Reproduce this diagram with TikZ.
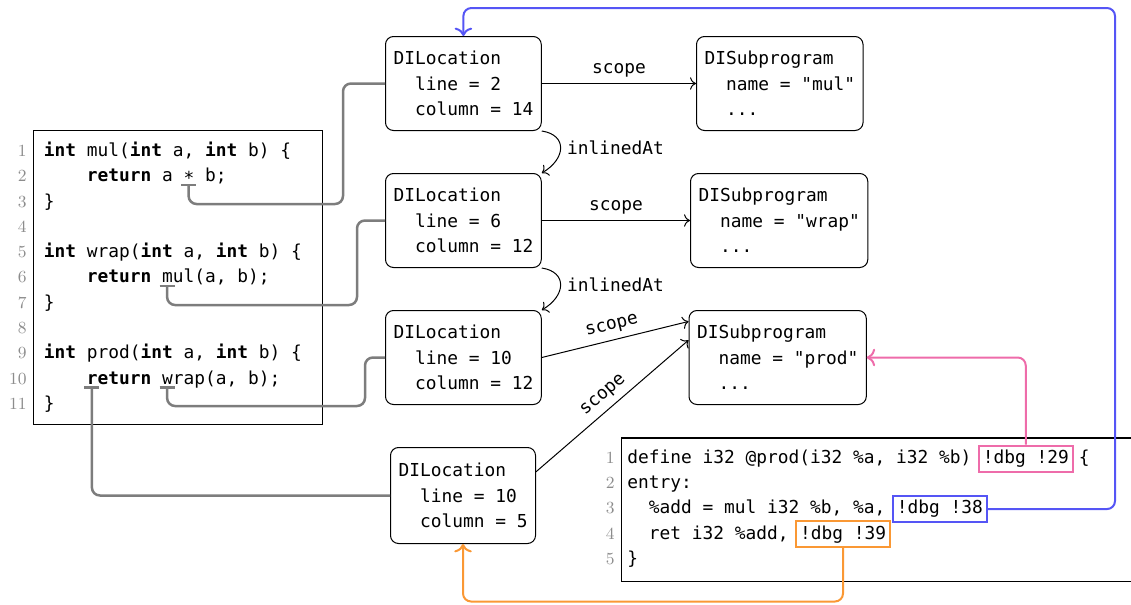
\documentclass[tikz,border=0pt]{standalone}
\usepackage{fontspec}
\newfontfamily\mono{DejaVu Sans Mono}
\usetikzlibrary{arrows.meta}
\definecolor{dbgpink}{RGB}{238,108,170}
\definecolor{dbgblue}{RGB}{85,85,245}
\definecolor{dbgorange}{RGB}{250,152,52}
\definecolor{linkgray}{RGB}{125,125,125}
\newcommand\kw[1]{\textbf{#1}}
\newcommand\mulop{\raisebox{-1.5pt}{*}}
\begin{document}
\begin{tikzpicture}[x=0.5pt,y=-0.5pt,
  every node/.style={font=\mono\fontsize{8.93}{12.75}\selectfont},
  mdbox/.style={draw, rounded corners=4pt, align=left, inner xsep=4pt, inner ysep=0pt,
    minimum height=47pt, anchor=north west, line width=0.5pt},
  codeline/.style={anchor=base west, inner sep=0pt},
  lineno/.style={anchor=base east, inner sep=0pt, font=\fontsize{8.5}{10}\selectfont, text=black!45},
  codeframe/.style={draw, line width=0.6pt, anchor=north west, inner sep=0pt},
  dbgbox/.style={draw=#1, line width=1pt, anchor=base west, inner sep=2.1pt},
  ref/.style={draw=linkgray, line width=1.25pt, rounded corners=4pt},
  tick/.style={draw=linkgray, line width=1.25pt},
  edge/.style={draw, line width=0.5pt, -{To[scale=1.1]}},
  dbglink/.style={draw=#1, line width=1pt, rounded corners=4pt, -{To[scale=1.1]}},
  lbl/.style={inner sep=3pt},
]
\useasboundingbox (0,0) rectangle (1131,605);
\clip (0,0) rectangle (1131,605);

% metadata nodes
\node[mdbox] (loc1) at (385,36) {DILocation\\~~line = 2\\~~column = 14};
\node[mdbox] (loc2) at (385,173) {DILocation\\~~line = 6\\~~column = 12};
\node[mdbox] (loc3) at (385,310) {DILocation\\~~line = 10\\~~column = 12};
\node[mdbox, minimum height=48pt] (loc4) at (390,447) {DILocation\\~~line = 10\\~~column = 5};
\node[mdbox] (sub1) at (696,36) {DISubprogram\\~~name = "mul"\\~~...};
\node[mdbox] (sub2) at (690,173) {DISubprogram\\~~name = "wrap"\\~~...};
\node[mdbox] (sub3) at (688.5,310) {DISubprogram\\~~name = "prod"\\~~...};

% C source listing
\node[codeframe, minimum width=144.5pt, minimum height=147pt] (src) at (33,130) {};
\foreach \i in {1,...,11}
  \node[lineno] (sn\i) at (27,{156.4+(\i-1)*25.3}) {\i};
\node[codeline] (s1)  at (43.5,156.4) {\kw{int} mul(\kw{int} a, \kw{int} b) \{};
\node[codeline] (s2)  at (43.5,181.7) {~~~~\kw{return} a \mulop{} b;};
\node[codeline] (s3)  at (43.5,207.0) {\}};
\node[codeline] (s5)  at (43.5,257.6) {\kw{int} wrap(\kw{int} a, \kw{int} b) \{};
\node[codeline] (s6)  at (43.5,282.9) {~~~~\kw{return} mul(a, b);};
\node[codeline] (s7)  at (43.5,308.2) {\}};
\node[codeline] (s9)  at (43.5,358.8) {\kw{int} prod(\kw{int} a, \kw{int} b) \{};
\node[codeline] (s10) at (43.5,384.1) {~~~~\kw{return} wrap(a, b);};
\node[codeline] (s11) at (43.5,409.4) {\}};

% LLVM IR listing
\node[codeframe, minimum width=300pt, minimum height=71.7pt] (ir) at (621,437.3) {};
\foreach \i in {1,...,5}
  \node[lineno] (in\i) at (615,{463.5+(\i-1)*25.2}) {\i};
\node[codeline] (r1) at (627,463.5) {define i32 @prod(i32 \%a, i32 \%b)};
\node[dbgbox=dbgpink] (d29) at (977.55,463.5) {!dbg !29};
\node[codeline] (r1b) at (1078.5,463.5) {\{};
\node[codeline] (r2) at (627,488.7) {entry:};
\node[codeline] (r3) at (627,513.9) {~~\%add = mul i32 \%b, \%a,};
\node[dbgbox=dbgblue] (d38) at (891.55,513.9) {!dbg !38};
\node[codeline] (r4) at (627,539.1) {~~ret i32 \%add,};
\node[dbgbox=dbgorange] (d39) at (794.8,539.1) {!dbg !39};
\node[codeline] (r5) at (627,564.3) {\}};

% source positions referenced by the locations
\coordinate (u1) at (188.6,185);
\coordinate (u2) at (167.1,286.2);
\coordinate (u3) at (167.1,387.4);
\coordinate (u4) at (91.9,387.4);
\coordinate (k1) at (343,204);
\coordinate (k2) at (357,305);
\coordinate (k3) at (365,406);
\foreach \u in {u1,u2,u3,u4}
  \draw[tick] (\u) ++(-7.5,0) -- ++(15,0);
\draw[ref] (u1) |- (k1) |- (loc1.west);
\draw[ref] (u2) |- (k2) |- (loc2.west);
\draw[ref] (u3) |- (k3) |- (loc3.west);
\draw[ref] (u4) |- (loc4.west);

% scope edges
\draw[edge] (loc1.east) -- node[above, lbl] (sc1) {scope} (sub1.west);
\draw[edge] (loc2.east) -- node[above, lbl] (sc2) {scope} (sub2.west);
\draw[edge] (loc3.east) -- node[above, sloped, lbl] (sc3) {scope} (sub3.158.7);
\draw[edge] (loc4.18) -- node[above, sloped, lbl] (sc4) {scope} (sub3.169.5);

% inlinedAt edges
\draw[edge] (loc1.south east) .. controls +(26,4) and +(24,-14) .. (loc2.north east)
  node[pos=0.5, right, lbl] (ia1) {inlinedAt};
\draw[edge] (loc2.south east) .. controls +(26,4) and +(24,-14) .. (loc3.north east)
  node[pos=0.5, right, lbl] (ia2) {inlinedAt};

% !dbg attachments
\coordinate (bluetop) at (1115,8);
\coordinate (orangebot) at (842,601.5);
\draw[dbglink=dbgpink] (d29.north) |- (sub3.east);
\draw[dbglink=dbgblue] (d38.east) -| (bluetop) -| (loc1.north);
\draw[dbglink=dbgorange] (d39.south) |- (orangebot -| loc4.south) -- (loc4.south);
\end{tikzpicture}
\end{document}
